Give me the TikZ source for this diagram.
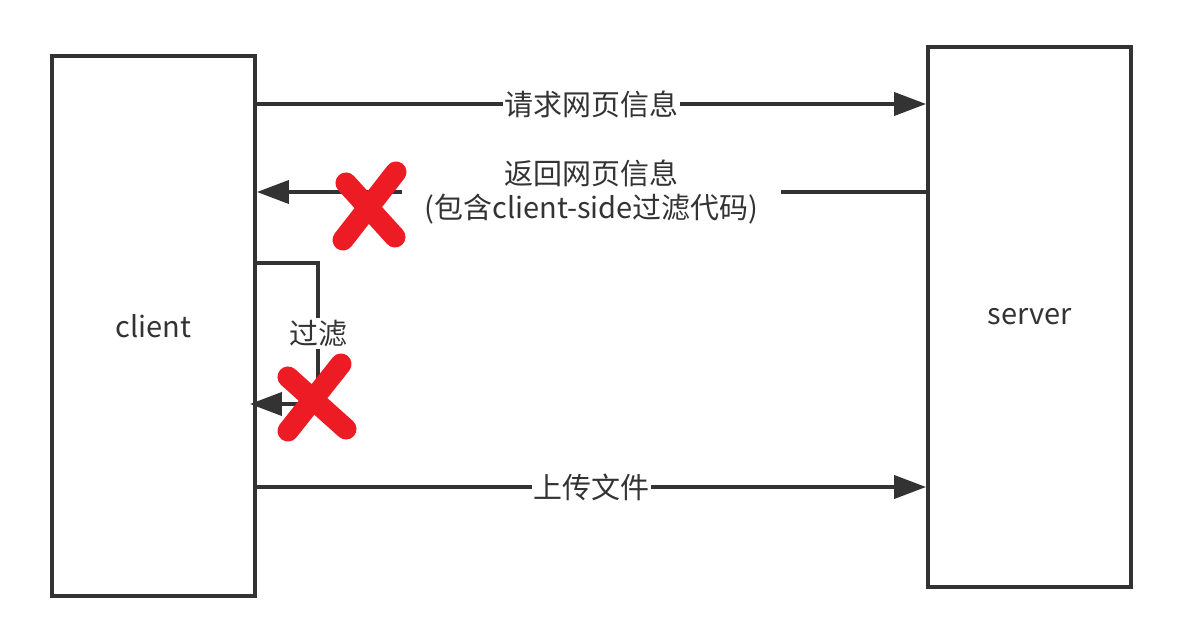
\documentclass[tikz,border=0pt]{standalone}
\usepackage{fontspec}
\setmainfont{Noto Sans CJK SC}
\usetikzlibrary{arrows.meta}
\definecolor{lineg}{HTML}{333333}
\definecolor{crossred}{HTML}{ED1C24}
\tikzset{
	box/.style={draw=lineg, line width=2.2pt, minimum width=4.06cm, minimum height=10.8cm, font=\fontsize{16.5}{20}\selectfont, text=lineg},
	flow/.style={draw=lineg, line width=2.2pt, -{Triangle[length=0.64cm, width=0.46cm]}},
	lbl/.style={fill=white, inner sep=1pt, text=lineg, font=\fontsize{16.5}{19.4}\selectfont, align=center},
	cross/.style={crossred, line width=12pt, line cap=round}
}
\begin{document}
\begin{tikzpicture}[x=0.02cm, y=-0.02cm]
			\useasboundingbox (0,0) rectangle (1177,631);
			\node[box] (client) at (153.5,326) {client};
			\node[box] (server) at (1029.5,317) {server};
			% requests and answers
			\draw[flow] (client.east |- 0,104) -- node[lbl] {请求网页信息} (server.west |- 0,104);
			\draw[flow] (server.west |- 0,192) -- node[lbl, inner xsep=13pt] {返回网页信息\\(包含client-side过滤代码)} (client.east |- 0,192);
			\draw[flow] (client.east |- 0,487) -- node[lbl] {上传文件} (server.west |- 0,487);
			% filter loop
			\coordinate (turn) at (318,263);
			\draw[flow] (client.east |- turn) -- (turn) -- node[lbl] {过滤} (318,404) -- ([xshift=-0.14cm]client.east |- 0,404);
			% crosses
			\draw[cross] (346,183) -- (395,237);
			\draw[cross] (396,172) -- (343,240);
			\draw[cross] (288,377) -- (346,429);
			\draw[cross] (341,364) -- (288,431);
		\end{tikzpicture}
\end{document}
